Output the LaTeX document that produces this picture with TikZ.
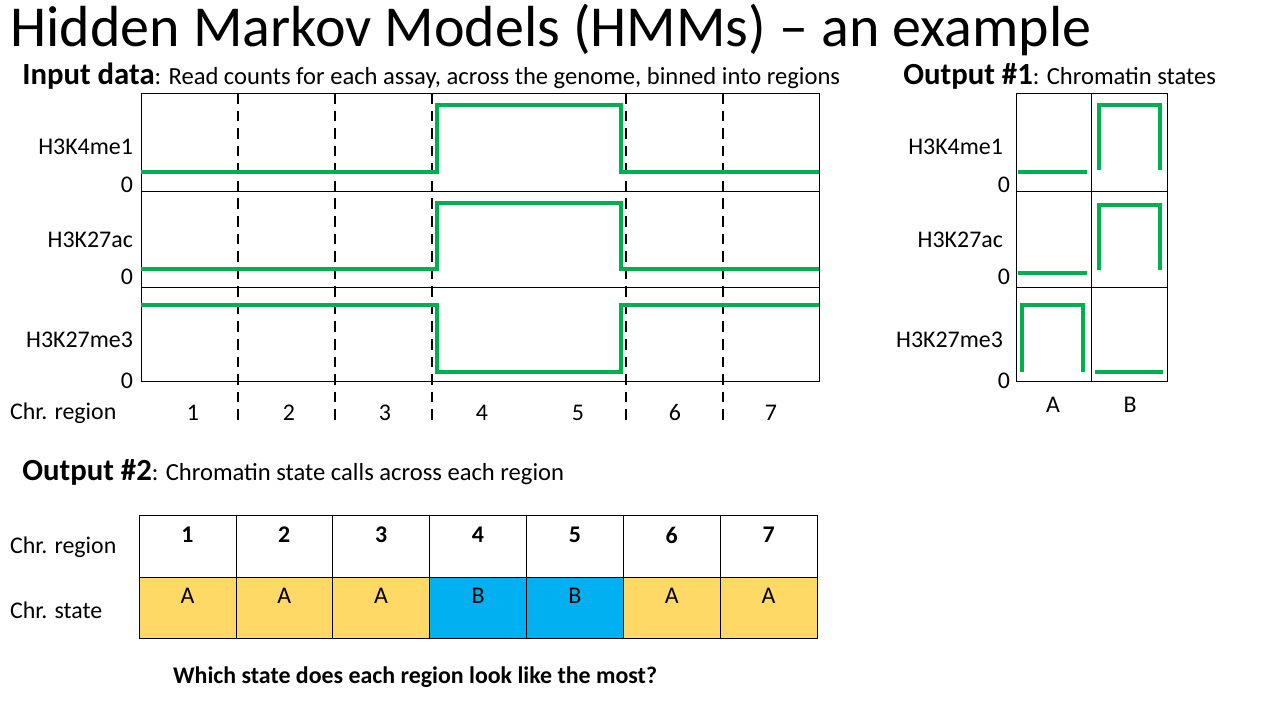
\documentclass[tikz,border=0pt]{standalone}
\usepackage{fontspec}
\setmainfont{Carlito}
\usetikzlibrary{positioning}
\definecolor{sig}{RGB}{0,176,80}
\definecolor{stA}{RGB}{255,217,102}
\definecolor{stB}{RGB}{0,176,240}
\tikzset{>=stealth}
\tikzset{signal/.style={sig,line width=2.2pt},
	lbl/.style={font=\fontsize{13.6}{16}\selectfont,anchor=east,inner sep=1pt},
	head/.style={font=\fontsize{17.5}{20}\selectfont,anchor=base west,inner sep=0pt}}
\newcommand{\zeroLabel}[2]{
	\node[lbl] (#2) at (#1) {0};
}
\newcommand{\subtxt}{\fontsize{14}{16}\selectfont}
\begin{document}
\begin{tikzpicture}[x=0.02cm,y=-0.02cm]
	\useasboundingbox (0,0) rectangle (1280,720);

	\node[anchor=base west,inner sep=0pt,font=\fontsize{33}{36}\selectfont] (title) at (10,46) {Hidden Markov Models (HMMs) -- an example};

	% input data
	\node[head] (inhead) at (22,84) {\textbf{Input data}\subtxt: Read counts for each assay, across the genome, binned into regions};
	\draw (141,93) rectangle (819,381);
	\draw (141,191) -- (819,191);
	\draw (141,287) -- (819,287);
	\foreach \x in {238,335,432,626,723}
		\draw[line width=1.2pt,dash pattern=on 6pt off 4pt] (\x,93) -- (\x,425);
	\draw[signal] (141,172) -- (437,172) -- (437,105) -- (621,105) -- (621,172) -- (819,172);
	\draw[signal] (141,269) -- (437,269) -- (437,203) -- (621,203) -- (621,269) -- (819,269);
	\draw[signal] (141,305) -- (437,305) -- (437,372) -- (621,372) -- (621,305) -- (819,305);
	\node[lbl] (r1) at (135,147) {H3K4me1};
	\node[lbl] (r2) at (135,240) {H3K27ac};
	\node[lbl] (r3) at (135,340) {H3K27me3};
	\zeroLabel{135,185}{z1}
	\zeroLabel{135,277}{z2}
	\zeroLabel{135,381}{z3}
	\node[lbl,anchor=west] (chr) at (8,413) {Chr. region};
	\foreach \n [count=\i] in {193,289,385,482,578,675,771}
		\node[lbl,anchor=center] (reg\i) at (\n,413) {\i};

	% output 1
	\node[head] (o1head) at (903,84) {\textbf{Output \#1}\subtxt: Chromatin states};
	\draw (1016,93) rectangle (1167,381);
	\draw (1016,191) -- (1167,191);
	\draw (1016,287) -- (1167,287);
	\draw (1091,93) -- (1091,381);
	\draw[signal] (1018,172) -- (1087,172);
	\draw[signal] (1099,170) -- (1099,105) -- (1160,105) -- (1160,170);
	\draw[signal] (1018,273) -- (1087,273);
	\draw[signal] (1099,270) -- (1099,205) -- (1160,205) -- (1160,270);
	\draw[signal] (1022,372) -- (1022,305) -- (1083,305) -- (1083,372);
	\draw[signal] (1095,372) -- (1163,372);
	\node[lbl] (s1) at (1005,147) {H3K4me1};
	\node[lbl] (s2) at (1005,240) {H3K27ac};
	\node[lbl] (s3) at (1005,340) {H3K27me3};
	\zeroLabel{1012,185}{y1}
	\zeroLabel{1012,277}{y2}
	\zeroLabel{1012,381}{y3}
	\node[lbl,anchor=center] (colA) at (1053,405) {A};
	\node[lbl,anchor=center] (colB) at (1130,405) {B};

	% output 2
	\node[head] (o2head) at (22,480) {\textbf{Output \#2}\subtxt: Chromatin state calls across each region};
	\foreach \s [count=\i] in {A,A,A,B,B,A,A}{
		\pgfmathsetmacro{\xa}{139+(\i-1)*96.86}
		\pgfmathsetmacro{\xb}{139+\i*96.86}
		\draw[fill=st\s] (\xa,577) rectangle (\xb,638);
		\draw (\xa,515) rectangle (\xb,577);
		\node[lbl,anchor=center,font=\fontsize{13.6}{16}\selectfont\bfseries] (hd\i) at ({(\xa+\xb)/2},535) {\i};
		\node[lbl,anchor=center] (st\i) at ({(\xa+\xb)/2},596) {\s};
	}
	\node[lbl,anchor=west] (chr2) at (8,547) {Chr. region};
	\node[lbl,anchor=west] (state) at (8,610) {Chr. state};

	\node[lbl,anchor=center,font=\fontsize{13.6}{16}\selectfont\bfseries] (question) at (415,677) {Which state does each region look like the most?};
\end{tikzpicture}
\end{document}
